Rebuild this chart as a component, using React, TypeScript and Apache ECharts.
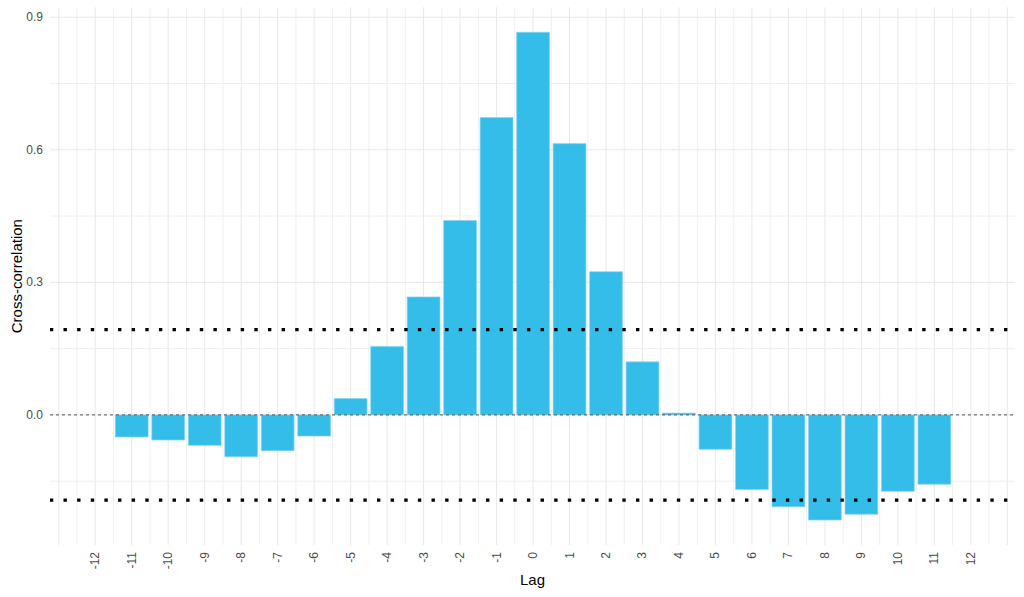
import React, { useEffect, useRef } from "react";
import * as echarts from "echarts";

// ---- data ----
const LAGS = [-12, -11, -10, -9, -8, -7, -6, -5, -4, -3, -2, -1, 0, 1, 2, 3, 4, 5, 6, 7, 8, 9, 10, 11, 12];
const CCF: (number | null)[] = [
  null, -0.05, -0.057, -0.069, -0.095, -0.081, -0.048, 0.037, 0.155, 0.267, 0.44, 0.673, 0.866,
  0.614, 0.324, 0.12, 0.004, -0.078, -0.169, -0.208, -0.238, -0.225, -0.173, -0.157, null,
];
const CONF_LIMIT = 0.193;
const ZERO_LINE = 0;
const Y_TICKS = [0, 0.3, 0.6, 0.9];
const Y_MINOR = [-0.15, 0.15, 0.45, 0.75];
const X_EDGE_TICKS = [-13, 13];

// ---- layout / style ----
const X_MIN = -13.24;
const X_MAX = 13.21;
const Y_MIN = -0.2945;
const Y_MAX = 0.9225;
const BAR_HALF = 0.45;
const FONT = "'Liberation Sans', Arial, sans-serif";
const BAR_FILL = "#35bdea";
const DOT = 3.4;
const DOT_PERIOD = 13.63;

const xMajor = [X_EDGE_TICKS[0], ...LAGS, X_EDGE_TICKS[1]];
const xMinor = xMajor.slice(1).map((v) => v - 0.5);

export default function App() {
  const ref = useRef<HTMLDivElement>(null);

  useEffect(() => {
    if (!ref.current) return;
    const chart = echarts.init(ref.current, undefined, { renderer: "svg" });

    const barData = LAGS.map((lag, i) => [lag, CCF[i]]).filter((d) => d[1] !== null);
    const vGridData = [
      ...xMajor.map((x) => [x, 0, 1]),
      ...xMinor.map((x) => [x, 0, 0]),
    ];
    const hGridData = [
      ...Y_TICKS.map((y) => [0, y, 1]),
      ...Y_MINOR.map((y) => [0, y, 0]),
    ];
    // [x, y, kind] kind 0 = dashed zero line, 1 = dotted confidence bound
    const refData = [
      [0, ZERO_LINE, 0],
      [0, CONF_LIMIT, 1],
      [0, -CONF_LIMIT, 1],
    ];

    chart.setOption({
      animation: false,
      textStyle: { fontFamily: FONT },
      grid: {
        left: 50,
        right: 9,
        top: 7.3,
        bottom: 52,
        containLabel: false,
        outerBoundsMode: "none",
      },
      xAxis: {
        type: "value",
        min: X_MIN,
        max: X_MAX,
        name: "Lag",
        nameLocation: "middle",
        nameGap: 27,
        nameMoveOverlap: false,
        nameTextStyle: { fontSize: 15, color: "#000", fontFamily: FONT },
        axisLine: { show: false },
        axisTick: { show: false },
        splitLine: { show: false },
        axisLabel: {
          customValues: LAGS,
          rotate: 90,
          margin: 7,
          fontSize: 12,
          color: "#4d4d4d",
          fontFamily: FONT,
          formatter: (v: number) => String(v),
        },
      },
      yAxis: {
        type: "value",
        min: Y_MIN,
        max: Y_MAX,
        name: "Cross-correlation",
        nameLocation: "middle",
        nameRotate: 90,
        nameGap: 26,
        nameMoveOverlap: false,
        nameTextStyle: { fontSize: 15, color: "#000", fontFamily: FONT },
        axisLine: { show: false },
        axisTick: { show: false },
        splitLine: { show: false },
        axisLabel: {
          customValues: Y_TICKS,
          margin: 7,
          fontSize: 12,
          color: "#4d4d4d",
          fontFamily: FONT,
          formatter: (v: number) => v.toFixed(1),
        },
      },
      series: [
        {
          type: "custom",
          name: "vgrid",
          silent: true,
          z: 0,
          data: vGridData,
          renderItem: (_p: any, api: any) => {
            const x = api.value(0);
            const major = api.value(2) === 1;
            const a = api.coord([x, Y_MIN]);
            const b = api.coord([x, Y_MAX]);
            return {
              type: "line",
              shape: { x1: a[0], y1: a[1], x2: b[0], y2: b[1] },
              style: { stroke: major ? "#e8e8e8" : "#f0f0f0", lineWidth: 1 },
            };
          },
        },
        {
          type: "custom",
          name: "hgrid",
          silent: true,
          z: 0,
          data: hGridData,
          renderItem: (_p: any, api: any) => {
            const y = api.value(1);
            const a = api.coord([X_MIN, y]);
            const b = api.coord([X_MAX, y]);
            return {
              type: "line",
              shape: { x1: a[0], y1: a[1], x2: b[0], y2: b[1] },
              style: { stroke: api.value(2) === 1 ? "#e8e8e8" : "#f0f0f0", lineWidth: 1 },
            };
          },
        },
        {
          type: "custom",
          name: "ccf",
          z: 2,
          data: barData,
          renderItem: (_p: any, api: any) => {
            const x = api.value(0);
            const v = api.value(1);
            const a = api.coord([x - BAR_HALF, v]);
            const b = api.coord([x + BAR_HALF, 0]);
            return {
              type: "rect",
              shape: {
                x: a[0],
                y: Math.min(a[1], b[1]),
                width: b[0] - a[0],
                height: Math.abs(b[1] - a[1]),
              },
              style: { fill: BAR_FILL, stroke: "#86d5f1", lineWidth: 0.7 },
            };
          },
        },
        {
          type: "custom",
          name: "reflines",
          silent: true,
          z: 3,
          clip: false,
          data: refData,
          renderItem: (_p: any, api: any) => {
            const y = api.value(1);
            const a = api.coord([X_MIN, y]);
            const b = api.coord([X_MAX, y]);
            if (api.value(2) === 0) {
              return {
                type: "line",
                shape: { x1: a[0], y1: a[1], x2: b[0], y2: b[1] },
                style: { stroke: "#555", lineWidth: 1, lineDash: [3, 3], fill: null },
              };
            }
            // drawn right-to-left; offset so the dots sit at left + k * period
            const len = b[0] - a[0];
            const rem = (len - DOT) % DOT_PERIOD;
            const offset = DOT_PERIOD - rem;
            return {
              type: "line",
              shape: { x1: b[0], y1: b[1], x2: a[0], y2: a[1] },
              style: {
                stroke: "#000",
                lineWidth: DOT,
                lineDash: [DOT, DOT_PERIOD - DOT],
                lineDashOffset: offset,
                lineCap: "butt",
                fill: null,
              },
            };
          },
        },
      ],
    });

    return () => chart.dispose();
  }, []);

  return (
    <div
      ref={ref}
      style={{ position: "absolute", left: 0, top: 0, width: 1024, height: 597, background: "#fff" }}
    />
  );
}
